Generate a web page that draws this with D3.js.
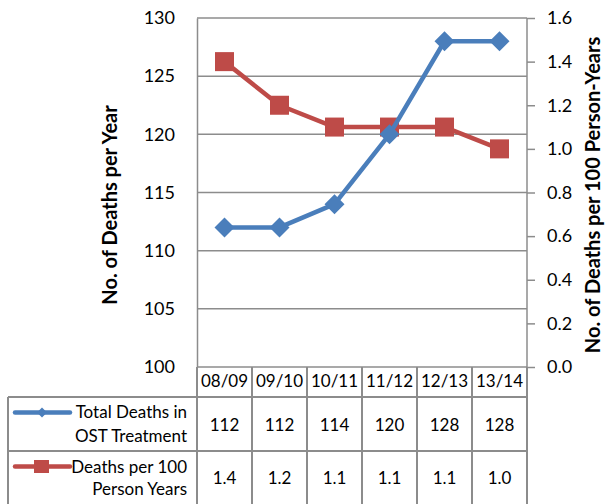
<!DOCTYPE html>
<html>
<head>
<meta charset="utf-8">
<script src="https://cdn.jsdelivr.net/npm/d3@7"></script>
<style>
  html, body { margin: 0; padding: 0; background: #fff; }
  svg { display: block; font-family: Lato, "Open Sans", sans-serif; }
</style>
</head>
<body>
<svg id="chart" width="605" height="504"></svg>
<script>
// Fiscal years shown along the category axis and in the data table
const categories = ["08/09", "09/10", "10/11", "11/12", "12/13", "13/14"];
// Total deaths while in OST treatment (left axis)
const totalDeaths = [112, 112, 114, 120, 128, 128];
// Deaths per 100 person-years (right axis)
const deathsPer100 = [1.4, 1.2, 1.1, 1.1, 1.1, 1.0];
// Axis tick values
const leftTicks = [100, 105, 110, 115, 120, 125, 130];
const rightTicks = [0, 0.2, 0.4, 0.6, 0.8, 1.0, 1.2, 1.4, 1.6];
// Legend / row labels of the data table
const seriesNames = [["Total Deaths in", "OST Treatment"], ["Deaths per 100", "Person Years"]];

const blue = "#4a7ebb";
const red = "#be4b48";
const gridColor = "#8c8c8c";

const svg = d3.select("#chart");

const plot = { left: 197, right: 527, top: 18, bottom: 367 };

const x = d3.scaleBand().domain(categories).range([plot.left, plot.right]).padding(0);
const yLeft = d3.scaleLinear().domain([100, 130]).range([plot.bottom, plot.top]);
const yRight = d3.scaleLinear().domain([0, 1.6]).range([plot.bottom, plot.top]);

// Horizontal gridlines from the left axis
svg.append("g")
  .selectAll("line")
  .data(leftTicks)
  .join("line")
  .attr("x1", plot.left).attr("x2", plot.right)
  .attr("y1", d => yLeft(d)).attr("y2", d => yLeft(d))
  .attr("stroke", gridColor).attr("stroke-width", 1.5);

// Left axis
const leftAxis = svg.append("g")
  .attr("transform", `translate(${plot.left},0)`)
  .call(d3.axisLeft(yLeft).tickValues(leftTicks).tickSize(0).tickPadding(22));
leftAxis.select(".domain").attr("stroke", gridColor).attr("stroke-width", 1.5);
leftAxis.selectAll("text").attr("font-size", 18).attr("fill", "#000")
  .attr("font-family", "Lato, sans-serif");

// Right axis
const rightAxis = svg.append("g")
  .attr("transform", `translate(${plot.right},0)`)
  .call(d3.axisRight(yRight).tickValues(rightTicks).tickSize(8).tickPadding(12)
    .tickFormat(d3.format(".1f")));
rightAxis.select(".domain").attr("stroke", gridColor).attr("stroke-width", 1.5)
  .attr("d", `M0,${plot.top}V${plot.bottom}`);
rightAxis.selectAll(".tick line").attr("stroke", gridColor).attr("stroke-width", 1.5);
rightAxis.selectAll("text").attr("font-size", 18).attr("fill", "#000")
  .attr("font-family", "Lato, sans-serif");

// Axis titles
svg.append("text")
  .attr("transform", `translate(117,205) rotate(-90)`)
  .attr("text-anchor", "middle")
  .attr("font-size", 20).attr("font-weight", "bold")
  .text("No. of Deaths per Year");
svg.append("text")
  .attr("transform", `translate(600,195) rotate(-90)`)
  .attr("text-anchor", "middle")
  .attr("font-size", 20).attr("font-weight", "bold")
  .text("No. of Deaths per 100 Person-Years");

// Series lines and markers
const cx = d => x(d) + x.bandwidth() / 2;

const redLine = d3.line().x((d, i) => cx(categories[i])).y(d => yRight(d));
svg.append("path").datum(deathsPer100)
  .attr("d", redLine).attr("fill", "none")
  .attr("stroke", red).attr("stroke-width", 4.5).attr("stroke-linejoin", "round");
svg.append("g").selectAll("rect").data(deathsPer100).join("rect")
  .attr("x", (d, i) => cx(categories[i]) - 9.5)
  .attr("y", d => yRight(d) - 9.5)
  .attr("width", 19).attr("height", 19)
  .attr("fill", red);

const blueLine = d3.line().x((d, i) => cx(categories[i])).y(d => yLeft(d));
svg.append("path").datum(totalDeaths)
  .attr("d", blueLine).attr("fill", "none")
  .attr("stroke", blue).attr("stroke-width", 4.5).attr("stroke-linejoin", "round");
const diamond = (px, py, r) => `M${px},${py - r}L${px + r},${py}L${px},${py + r}L${px - r},${py}Z`;
svg.append("g").selectAll("path").data(totalDeaths).join("path")
  .attr("d", (d, i) => diamond(cx(categories[i]), yLeft(d), 10))
  .attr("fill", blue);

// Data table below the plot
const table = { left: 8, headTop: plot.bottom, row1Top: 397, row2Top: 451, bottom: 510 };
const tableLines = svg.append("g").attr("stroke", gridColor).attr("stroke-width", 2);
// column boundaries
const colEdges = categories.map(c => x(c)).concat([plot.right]);
tableLines.selectAll("line.col").data(colEdges).join("line")
  .attr("class", "col")
  .attr("x1", d => d).attr("x2", d => d)
  .attr("y1", table.headTop).attr("y2", table.bottom);
// left border of legend column
tableLines.append("line")
  .attr("x1", table.left).attr("x2", table.left)
  .attr("y1", table.row1Top).attr("y2", table.bottom);
// row boundaries
tableLines.selectAll("line.row").data([table.row1Top, table.row2Top]).join("line")
  .attr("class", "row")
  .attr("x1", table.left).attr("x2", plot.right)
  .attr("y1", d => d).attr("y2", d => d);

// Category header labels
svg.append("g").selectAll("text").data(categories).join("text")
  .attr("x", d => cx(d)).attr("y", 387)
  .attr("text-anchor", "middle").attr("font-size", 17)
  .text(d => d);

// Table values
svg.append("g").selectAll("text").data(totalDeaths).join("text")
  .attr("x", (d, i) => cx(categories[i])).attr("y", 430.5)
  .attr("text-anchor", "middle").attr("font-size", 17)
  .text(d => d3.format("d")(d));
svg.append("g").selectAll("text").data(deathsPer100).join("text")
  .attr("x", (d, i) => cx(categories[i])).attr("y", 484)
  .attr("text-anchor", "middle").attr("font-size", 17)
  .text(d => d3.format(".1f")(d));

// Legend keys in the table's first column
const legendY = [412.5, 466.5];
const legendKey = svg.append("g");
legendKey.append("line")
  .attr("x1", 15).attr("x2", 70).attr("y1", legendY[0]).attr("y2", legendY[0])
  .attr("stroke", blue).attr("stroke-width", 4.5).attr("stroke-linecap", "round");
legendKey.append("path").attr("d", diamond(42, legendY[0], 5)).attr("fill", blue);
legendKey.append("line")
  .attr("x1", 15).attr("x2", 70).attr("y1", legendY[1]).attr("y2", legendY[1])
  .attr("stroke", red).attr("stroke-width", 4.5).attr("stroke-linecap", "round");
legendKey.append("rect")
  .attr("x", 34).attr("y", legendY[1] - 6.5).attr("width", 15).attr("height", 13)
  .attr("fill", red);

const nameBaselines = [[418, 441.5], [472.5, 495]];
seriesNames.forEach((lines, s) => {
  svg.append("g").selectAll("text").data(lines).join("text")
    .attr("x", 187).attr("y", (d, i) => nameBaselines[s][i])
    .attr("text-anchor", "end").attr("font-size", 17)
    .text(d => d);
});
</script>
</body>
</html>
